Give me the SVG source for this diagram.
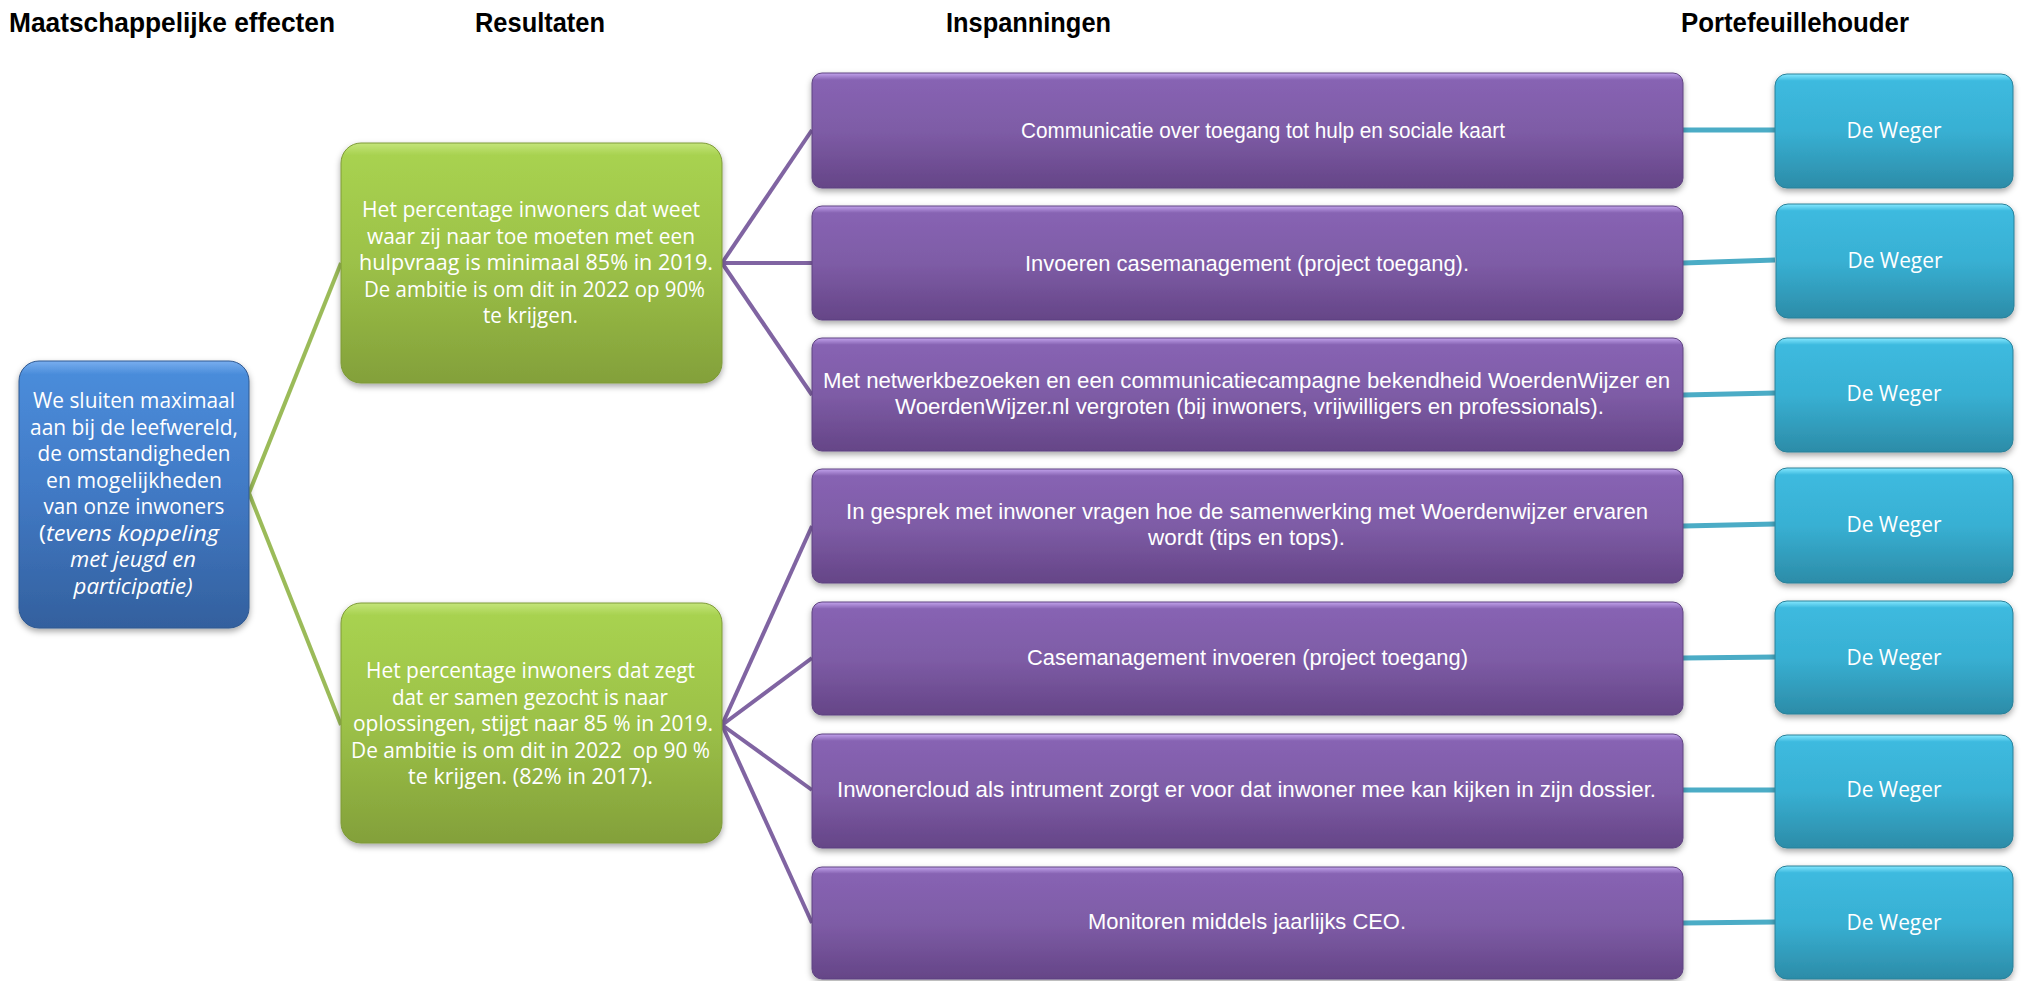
<svg xmlns="http://www.w3.org/2000/svg" width="2022" height="981" viewBox="0 0 2022 981">
<defs>
<linearGradient id="gP" x1="0" y1="0" x2="0" y2="1">
<stop offset="0" stop-color="#C2A3EC"/><stop offset="0.06" stop-color="#8763B3"/><stop offset="0.5" stop-color="#7E5CA6"/><stop offset="1" stop-color="#654587"/>
</linearGradient>
<linearGradient id="gC" x1="0" y1="0" x2="0" y2="1">
<stop offset="0" stop-color="#86E8FF"/><stop offset="0.06" stop-color="#3DBADF"/><stop offset="0.5" stop-color="#38B0D3"/><stop offset="1" stop-color="#2C8CA8"/>
</linearGradient>
<linearGradient id="gG" x1="0" y1="0" x2="0" y2="1">
<stop offset="0" stop-color="#C4E57A"/><stop offset="0.05" stop-color="#A8D250"/><stop offset="0.5" stop-color="#9CC148"/><stop offset="1" stop-color="#83A03A"/>
</linearGradient>
<linearGradient id="gB" x1="0" y1="0" x2="0" y2="1">
<stop offset="0" stop-color="#78AEEF"/><stop offset="0.05" stop-color="#4A8CDA"/><stop offset="0.5" stop-color="#4179C4"/><stop offset="1" stop-color="#33609E"/>
</linearGradient>
<filter id="sh" x="-10%" y="-10%" width="120%" height="130%">
<feDropShadow dx="0" dy="3" stdDeviation="3" flood-color="#000" flood-opacity="0.35"/>
</filter>
</defs>
<style>
.hd{font-family:"Liberation Sans",Arial,sans-serif;font-weight:bold;font-size:27px;fill:#000}
.tw{font-family:"Open Sans","Liberation Sans",sans-serif;font-size:21px;fill:#fff;text-anchor:middle}
.tp{font-family:"Liberation Sans",Arial,sans-serif;font-size:22px;fill:#fff;text-anchor:middle}
.it{font-style:italic}
.p{fill:url(#gP);stroke:#5E4380;stroke-width:1;filter:url(#sh)}
.c{fill:url(#gC);stroke:#2A8098;stroke-width:1;filter:url(#sh)}
.g{fill:url(#gG);stroke:#7E9A38;stroke-width:1;filter:url(#sh)}
.b{fill:url(#gB);stroke:#2F5890;stroke-width:1;filter:url(#sh)}
.lg{stroke:#9BBB59;stroke-width:4;fill:none}
.lp{stroke:#8064A2;stroke-width:4;fill:none}
.lc{stroke:#4BACC6;stroke-width:5;fill:none}
</style>
<rect width="2022" height="981" fill="#fff"/>
<g id="headers">
<text class="hd" x="9" y="32" textLength="326" lengthAdjust="spacingAndGlyphs">Maatschappelijke effecten</text>
<text class="hd" x="475" y="32" textLength="130" lengthAdjust="spacingAndGlyphs">Resultaten</text>
<text class="hd" x="946" y="32" textLength="165" lengthAdjust="spacingAndGlyphs">Inspanningen</text>
<text class="hd" x="1681" y="32" textLength="228" lengthAdjust="spacingAndGlyphs">Portefeuillehouder</text>
</g>
<g id="connectors">
<line class="lg" x1="249" y1="493" x2="341" y2="263"/>
<line class="lg" x1="249" y1="493" x2="341" y2="725"/>
<line class="lp" x1="722" y1="263" x2="812" y2="130"/>
<line class="lp" x1="722" y1="263" x2="812" y2="263"/>
<line class="lp" x1="722" y1="263" x2="812" y2="395"/>
<line class="lp" x1="722" y1="725" x2="812" y2="526"/>
<line class="lp" x1="722" y1="725" x2="812" y2="658"/>
<line class="lp" x1="722" y1="725" x2="812" y2="790"/>
<line class="lp" x1="722" y1="725" x2="812" y2="923"/>
<line class="lc" x1="1683" y1="130" x2="1775" y2="130"/>
<line class="lc" x1="1683" y1="263" x2="1775" y2="260"/>
<line class="lc" x1="1683" y1="395" x2="1775" y2="393"/>
<line class="lc" x1="1683" y1="526" x2="1775" y2="524"/>
<line class="lc" x1="1683" y1="658" x2="1775" y2="657"/>
<line class="lc" x1="1683" y1="790" x2="1775" y2="790"/>
<line class="lc" x1="1683" y1="923" x2="1775" y2="922"/>
</g>
<g id="effect">
<rect class="b" x="19" y="361" width="230" height="267" rx="20"/>
<text class="tw" x="134" y="408" textLength="202" lengthAdjust="spacingAndGlyphs">We sluiten maximaal</text>
<text class="tw" x="134" y="434.5" textLength="208" lengthAdjust="spacingAndGlyphs">aan bij de leefwereld,</text>
<text class="tw" x="134" y="461" textLength="193" lengthAdjust="spacingAndGlyphs">de omstandigheden</text>
<text class="tw" x="134" y="487.5" textLength="176" lengthAdjust="spacingAndGlyphs">en mogelijkheden</text>
<text class="tw" x="134" y="514" textLength="181" lengthAdjust="spacingAndGlyphs">van onze inwoners</text>
<text class="tw" x="129" y="540.5" textLength="180" lengthAdjust="spacingAndGlyphs">(<tspan class="it">tevens koppeling</tspan></text>
<text class="tw it" x="133" y="567" textLength="126" lengthAdjust="spacingAndGlyphs">met jeugd en</text>
<text class="tw it" x="133" y="593.5" textLength="119" lengthAdjust="spacingAndGlyphs">participatie)</text>
</g>
<g id="result1">
<rect class="g" x="341" y="143" width="381" height="240" rx="20"/>
<text class="tw" x="531" y="217" textLength="338" lengthAdjust="spacingAndGlyphs">Het percentage inwoners dat weet</text>
<text class="tw" x="531" y="243.5" textLength="328" lengthAdjust="spacingAndGlyphs">waar zij naar toe moeten met een</text>
<text class="tw" x="536" y="270" textLength="354" lengthAdjust="spacingAndGlyphs">hulpvraag is minimaal 85% in 2019.</text>
<text class="tw" x="534.5" y="296.5" textLength="341" lengthAdjust="spacingAndGlyphs">De ambitie is om dit in 2022 op 90%</text>
<text class="tw" x="530.5" y="323" textLength="95" lengthAdjust="spacingAndGlyphs">te krijgen.</text>
</g>
<g id="result2">
<rect class="g" x="341" y="603" width="381" height="240" rx="20"/>
<text class="tw" x="530.5" y="678" textLength="329" lengthAdjust="spacingAndGlyphs">Het percentage inwoners dat zegt</text>
<text class="tw" x="530" y="704.5" textLength="276" lengthAdjust="spacingAndGlyphs">dat er samen gezocht is naar</text>
<text class="tw" x="533" y="731" textLength="360" lengthAdjust="spacingAndGlyphs">oplossingen, stijgt naar 85 % in 2019.</text>
<text class="tw" x="530.5" y="757.5" textLength="359" lengthAdjust="spacingAndGlyphs" xml:space="preserve">De ambitie is om dit in 2022  op 90 %</text>
<text class="tw" x="530.5" y="784" textLength="245" lengthAdjust="spacingAndGlyphs">te krijgen. (82% in 2017).</text>
</g>
<g id="act1">
<rect class="p" x="812" y="73" width="871" height="115" rx="10"/>
<text class="tp" x="1263" y="138" textLength="484" lengthAdjust="spacingAndGlyphs">Communicatie over toegang tot hulp en sociale kaart</text>
</g>
<g id="act2">
<rect class="p" x="812" y="206" width="871" height="114" rx="10"/>
<text class="tp" x="1247" y="271" textLength="444" lengthAdjust="spacingAndGlyphs">Invoeren casemanagement (project toegang).</text>
</g>
<g id="act3">
<rect class="p" x="812" y="338" width="871" height="113" rx="10"/>
<text class="tp" x="1246.5" y="388" textLength="847" lengthAdjust="spacingAndGlyphs">Met netwerkbezoeken en een communicatiecampagne bekendheid WoerdenWijzer en</text>
<text class="tp" x="1249.5" y="414" textLength="709" lengthAdjust="spacingAndGlyphs">WoerdenWijzer.nl vergroten (bij inwoners, vrijwilligers en professionals).</text>
</g>
<g id="act4">
<rect class="p" x="812" y="469" width="871" height="114" rx="10"/>
<text class="tp" x="1247" y="519" textLength="802" lengthAdjust="spacingAndGlyphs">In gesprek met inwoner vragen hoe de samenwerking met Woerdenwijzer ervaren</text>
<text class="tp" x="1246.5" y="545" textLength="197" lengthAdjust="spacingAndGlyphs">wordt (tips en tops).</text>
</g>
<g id="act5">
<rect class="p" x="812" y="602" width="871" height="113" rx="10"/>
<text class="tp" x="1247.5" y="665" textLength="441" lengthAdjust="spacingAndGlyphs">Casemanagement invoeren (project toegang)</text>
</g>
<g id="act6">
<rect class="p" x="812" y="734" width="871" height="114" rx="10"/>
<text class="tp" x="1246.5" y="797" textLength="819" lengthAdjust="spacingAndGlyphs">Inwonercloud als intrument zorgt er voor dat inwoner mee kan kijken in zijn dossier.</text>
</g>
<g id="act7">
<rect class="p" x="812" y="867" width="871" height="112" rx="10"/>
<text class="tp" x="1247" y="929" textLength="318" lengthAdjust="spacingAndGlyphs">Monitoren middels jaarlijks CEO.</text>
</g>
<g id="own1"><rect class="c" x="1775" y="74" width="238" height="114" rx="12"/><text class="tw" x="1894" y="138" textLength="95" lengthAdjust="spacingAndGlyphs">De Weger</text></g>
<g id="own2"><rect class="c" x="1776" y="204" width="238" height="114" rx="12"/><text class="tw" x="1895" y="268" textLength="95" lengthAdjust="spacingAndGlyphs">De Weger</text></g>
<g id="own3"><rect class="c" x="1775" y="338" width="238" height="114" rx="12"/><text class="tw" x="1894" y="401" textLength="95" lengthAdjust="spacingAndGlyphs">De Weger</text></g>
<g id="own4"><rect class="c" x="1775" y="468" width="238" height="115" rx="12"/><text class="tw" x="1894" y="532" textLength="95" lengthAdjust="spacingAndGlyphs">De Weger</text></g>
<g id="own5"><rect class="c" x="1775" y="601" width="238" height="113" rx="12"/><text class="tw" x="1894" y="665" textLength="95" lengthAdjust="spacingAndGlyphs">De Weger</text></g>
<g id="own6"><rect class="c" x="1775" y="735" width="238" height="113" rx="12"/><text class="tw" x="1894" y="797" textLength="95" lengthAdjust="spacingAndGlyphs">De Weger</text></g>
<g id="own7"><rect class="c" x="1775" y="866" width="238" height="113" rx="12"/><text class="tw" x="1894" y="930" textLength="95" lengthAdjust="spacingAndGlyphs">De Weger</text></g>
</svg>
